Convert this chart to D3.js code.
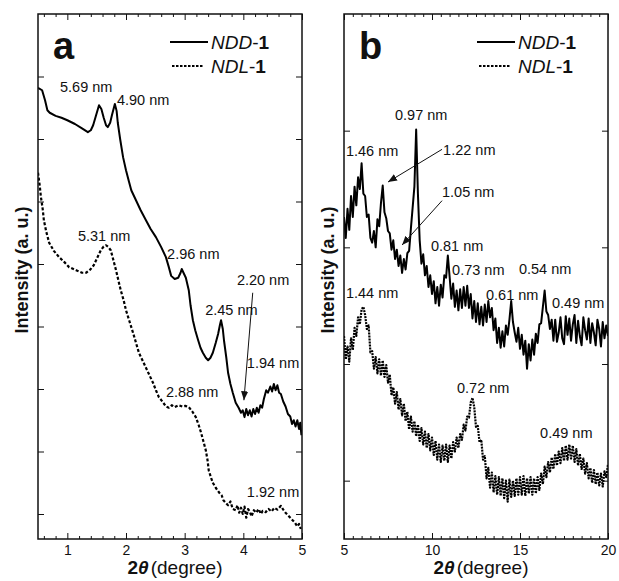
<!DOCTYPE html>
<html>
<head>
<meta charset="utf-8">
<script src="https://cdn.jsdelivr.net/npm/d3@7/dist/d3.min.js"></script>
<style>
  body { margin: 0; background: #fff; }
  svg text { font-family: "Liberation Sans", Arial, sans-serif; fill: #111; }
</style>
</head>
<body>
<svg id="chart" width="619" height="581"></svg>
<script>
// ---------- data ----------
// Panel a: low-angle scans, [2θ, intensity (offset, a.u.)]
const nddLow = [
  [0.50,6.82],[0.57,6.78],[0.62,6.62],[0.66,6.46],[0.70,6.42],[0.80,6.37],[0.90,6.34],[1.00,6.30],
  [1.13,6.24],[1.25,6.17],[1.35,6.11],[1.40,6.14],[1.44,6.22],[1.49,6.38],[1.54,6.54],[1.58,6.48],
  [1.62,6.34],[1.66,6.22],[1.69,6.19],[1.73,6.26],[1.76,6.38],[1.81,6.56],[1.84,6.45],[1.86,6.26],
  [1.90,6.00],[1.95,5.71],[2.00,5.50],[2.05,5.32],[2.09,5.18],[2.17,5.02],[2.25,4.86],[2.34,4.70],
  [2.42,4.56],[2.51,4.43],[2.60,4.27],[2.68,4.11],[2.73,3.95],[2.77,3.81],[2.83,3.76],[2.89,3.78],
  [2.93,3.86],[2.95,3.92],[2.98,3.86],[3.02,3.78],[3.07,3.58],[3.10,3.34],[3.14,3.10],[3.18,2.94],
  [3.23,2.78],[3.27,2.66],[3.31,2.58],[3.36,2.50],[3.40,2.46],[3.44,2.50],[3.48,2.58],[3.53,2.74],
  [3.57,2.88],[3.60,3.02],[3.62,3.10],[3.65,2.96],[3.67,2.78],[3.71,2.50],[3.74,2.26],[3.78,2.08],
  [3.82,1.94],[3.87,1.78],[3.92,1.70],[3.96,1.62],[3.99,1.66],[4.02,1.55],[4.05,1.68],[4.08,1.58],
  [4.11,1.66],[4.14,1.56],[4.17,1.68],[4.20,1.60],[4.23,1.70],[4.26,1.62],[4.29,1.74],[4.32,1.70],
  [4.35,1.84],[4.39,1.98],[4.42,1.94],[4.46,2.04],[4.49,1.96],[4.52,2.08],[4.55,1.98],[4.58,2.06],
  [4.61,1.94],[4.64,1.92],[4.68,1.80],[4.72,1.72],[4.76,1.60],[4.80,1.56],[4.83,1.44],[4.86,1.50],
  [4.89,1.40],[4.92,1.50],[4.95,1.36],[4.97,1.46],[4.99,1.26]
];
const ndlLow = [
  [0.50,5.46],[0.53,5.25],[0.55,5.07],[0.58,4.88],[0.60,4.70],[0.64,4.52],[0.69,4.34],[0.77,4.21],
  [0.86,4.11],[0.95,4.03],[1.03,3.95],[1.15,3.90],[1.25,3.86],[1.32,3.86],[1.39,3.91],[1.45,3.98],
  [1.52,4.12],[1.57,4.22],[1.62,4.28],[1.66,4.30],[1.70,4.27],[1.74,4.22],[1.78,4.08],[1.83,3.90],
  [1.87,3.74],[1.91,3.58],[1.96,3.42],[2.00,3.26],[2.06,3.08],[2.12,2.90],[2.17,2.74],[2.22,2.58],
  [2.28,2.46],[2.34,2.34],[2.40,2.22],[2.46,2.10],[2.51,1.98],[2.56,1.87],[2.62,1.80],[2.68,1.72],
  [2.73,1.70],[2.78,1.74],[2.83,1.71],[2.90,1.74],[2.96,1.72],[3.01,1.73],[3.07,1.71],[3.13,1.64],
  [3.19,1.55],[3.24,1.42],[3.28,1.30],[3.32,1.16],[3.36,1.02],[3.39,0.86],[3.41,0.70],[3.45,0.58],
  [3.48,0.50],[3.53,0.42],[3.59,0.34],[3.63,0.30],[3.66,0.22],[3.70,0.18],[3.74,0.14],[3.78,0.20],
  [3.82,0.08],[3.87,0.06],[3.90,0.14],[3.93,0.02],[3.96,0.10],[3.99,0.00],[4.02,0.12],[4.05,-0.06],
  [4.08,0.08],[4.11,0.04],[4.14,-0.04],[4.18,0.06],[4.22,0.02],[4.26,0.08],[4.30,0.00],[4.33,0.05],
  [4.38,0.03],[4.43,0.08],[4.48,0.04],[4.53,0.10],[4.58,0.07],[4.64,0.13],[4.68,0.07],[4.72,0.02],
  [4.76,-0.02],[4.80,-0.06],[4.84,-0.10],[4.88,-0.14],[4.92,-0.20],[4.95,-0.16],[4.98,-0.24]
];

// Panel b: wide-angle scans on a 0.1° grid starting at 5°
const scanStartB = 5.0, scanStepB = 0.1;
const nddWide = [
  2.26,2.08,2.33,2.15,2.44,2.26,2.52,2.36,2.60,2.50,
  2.72,2.46,2.44,2.26,2.28,2.08,2.04,2.14,2.00,2.24,
  2.18,2.38,2.53,2.30,2.25,2.14,2.12,1.98,2.06,1.90,
  1.98,1.84,1.93,1.78,1.90,1.81,1.95,1.97,2.16,2.34,
  2.52,3.01,2.46,2.06,1.86,1.94,1.76,1.84,1.66,1.76,
  1.60,1.71,1.52,1.66,1.50,1.68,1.57,1.76,1.74,1.93,
  1.75,1.56,1.69,1.49,1.63,1.46,1.64,1.48,1.66,1.50,
  1.67,1.48,1.60,1.39,1.54,1.36,1.52,1.34,1.49,1.33,
  1.51,1.36,1.54,1.40,1.48,1.29,1.39,1.18,1.31,1.14,
  1.28,1.15,1.33,1.25,1.38,1.54,1.36,1.27,1.19,1.31,
  1.13,1.25,1.08,1.20,0.96,1.17,1.03,1.21,1.08,1.26,
  1.18,1.34,1.35,1.49,1.63,1.45,1.42,1.30,1.38,1.20,
  1.38,1.19,1.27,1.40,1.22,1.17,1.41,1.25,1.39,1.20,
  1.34,1.42,1.18,1.37,1.24,1.16,1.40,1.29,1.21,1.39,
  1.18,1.35,1.27,1.16,1.38,1.30,1.15,1.36,1.22,1.33,
  1.24
];
const ndlWide = [
  1.24,1.04,1.15,1.02,1.22,1.12,1.31,1.24,1.40,1.34,
  1.47,1.49,1.42,1.30,1.33,1.10,1.11,0.96,1.06,0.92,
  1.04,0.90,1.03,0.89,0.99,0.84,0.91,0.73,0.80,0.66,
  0.76,0.61,0.70,0.56,0.66,0.51,0.59,0.44,0.55,0.42,
  0.51,0.38,0.48,0.34,0.45,0.31,0.42,0.28,0.40,0.26,
  0.37,0.22,0.34,0.18,0.31,0.16,0.30,0.17,0.31,0.16,
  0.30,0.19,0.33,0.25,0.37,0.28,0.40,0.35,0.48,0.43,
  0.55,0.54,0.67,0.71,0.63,0.46,0.47,0.33,0.35,0.18,
  0.21,0.02,0.11,-0.06,0.07,-0.10,0.04,-0.12,0.03,-0.13,
  0.02,-0.15,0.00,-0.18,0.01,-0.14,0.00,-0.13,0.02,-0.12,
  0.03,-0.12,0.04,-0.13,0.02,-0.11,0.03,-0.12,0.02,-0.11,
  0.03,-0.08,0.06,-0.03,0.12,0.03,0.16,0.07,0.20,0.10,
  0.23,0.13,0.25,0.15,0.28,0.17,0.30,0.18,0.31,0.19,
  0.30,0.16,0.27,0.13,0.23,0.10,0.19,0.06,0.15,0.02,
  0.11,-0.02,0.09,-0.03,0.07,-0.04,0.06,-0.05,0.08,0.03,
  0.14
];

// Axis ticks
const xTicksA = [1, 2, 3, 4, 5];
const xMinorA = [0.6,0.8,1.2,1.4,1.6,1.8,2.2,2.4,2.6,2.8,3.2,3.4,3.6,3.8,4.2,4.4,4.6,4.8];
const yTicksA = [0, 1, 2, 3, 4, 5, 6, 7];
const xTicksB = [5, 10, 15, 20];
const xMinorB = [5.5,6,6.5,7,7.5,8,8.5,9,9.5,10.5,11,11.5,12,12.5,13,13.5,14,14.5,
                 15.5,16,16.5,17,17.5,18,18.5,19,19.5];
const yTicksB = [0, 1, 2, 3];

// d-spacing annotations: [text, 2θ, intensity] of the label's left baseline
const peaksA = [
  ["5.69 nm", 0.875, 6.75], ["4.90 nm", 1.846, 6.54], ["5.31 nm", 1.18, 4.37],
  ["2.96 nm", 2.70, 4.08], ["2.20 nm", 3.89, 3.66], ["2.45 nm", 3.35, 3.18],
  ["1.94 nm", 4.06, 2.34], ["2.88 nm", 2.68, 1.87], ["1.92 nm", 4.06, 0.27]
];
const peaksB = [
  ["0.97 nm", 7.90, 3.09], ["1.46 nm", 5.11, 2.78], ["1.22 nm", 10.63, 2.79],
  ["1.05 nm", 10.57, 2.43], ["0.81 nm", 9.94, 1.97], ["0.73 nm", 11.14, 1.76],
  ["0.54 nm", 14.94, 1.77], ["0.61 nm", 13.07, 1.55], ["0.49 nm", 16.82, 1.48],
  ["1.44 nm", 5.11, 1.57], ["0.72 nm", 11.42, 0.75], ["0.49 nm", 16.14, 0.37]
];
// pointer arrows: [from 2θ, from I, to 2θ, to I]
const arrowsA = [[4.16, 3.54, 4.01, 1.82]];
const arrowsB = [[10.57, 2.84, 7.50, 2.56], [10.57, 2.40, 8.30, 2.02]];

const seriesNames = ["NDD", "NDL"];

// ---------- drawing ----------
const svg = d3.select("#chart");

const defs = svg.append("defs");
defs.append("marker")
  .attr("id", "head").attr("viewBox", "0 0 10 10")
  .attr("refX", 10).attr("refY", 5)
  .attr("markerWidth", 9).attr("markerHeight", 9)
  .attr("markerUnits", "userSpaceOnUse")
  .attr("orient", "auto")
  .append("path").attr("d", "M0,1 L10,5 L0,9 Z").attr("fill", "#111");

function drawPanel(cfg) {
  const g = svg.append("g");
  const x = d3.scaleLinear().domain(cfg.xDomain).range([cfg.left, cfg.right]);
  const y = d3.scaleLinear().domain(cfg.yDomain).range([cfg.bottom, cfg.top]);

  const clipId = "clip-" + cfg.letter;
  defs.append("clipPath").attr("id", clipId)
    .append("rect").attr("x", cfg.left).attr("y", cfg.top)
    .attr("width", cfg.right - cfg.left).attr("height", cfg.bottom - cfg.top);

  const strip = sel => sel.select(".domain").remove();
  const tickStyle = sel => sel.selectAll(".tick line").attr("stroke", "#111").attr("stroke-width", 1);

  // bottom axis: majors with labels, minors without
  g.append("g").attr("transform", `translate(0,${cfg.bottom})`)
    .call(d3.axisBottom(x).tickValues(cfg.xTicks).tickSize(-6).tickPadding(6).tickFormat(d3.format("d")))
    .call(strip).call(tickStyle)
    .selectAll("text").attr("font-size", 14).attr("fill", "#111")
    .attr("font-family", "Liberation Sans, Arial, sans-serif");
  g.append("g").attr("transform", `translate(0,${cfg.bottom})`)
    .call(d3.axisBottom(x).tickValues(cfg.xMinor).tickSize(-3).tickFormat(""))
    .call(strip).call(tickStyle);
  // top axis mirrors
  g.append("g").attr("transform", `translate(0,${cfg.top})`)
    .call(d3.axisTop(x).tickValues(cfg.xTicks).tickSize(-6).tickFormat(""))
    .call(strip).call(tickStyle);
  g.append("g").attr("transform", `translate(0,${cfg.top})`)
    .call(d3.axisTop(x).tickValues(cfg.xMinor).tickSize(-3).tickFormat(""))
    .call(strip).call(tickStyle);
  // left / right unlabeled ticks
  g.append("g").attr("transform", `translate(${cfg.left},0)`)
    .call(d3.axisLeft(y).tickValues(cfg.yTicks).tickSize(-6).tickFormat(""))
    .call(strip).call(tickStyle);
  g.append("g").attr("transform", `translate(${cfg.right},0)`)
    .call(d3.axisRight(y).tickValues(cfg.yTicks).tickSize(-6).tickFormat(""))
    .call(strip).call(tickStyle);

  // curves
  const line = d3.line().x(d => x(d[0])).y(d => y(d[1]));
  const plot = g.append("g").attr("clip-path", `url(#${clipId})`);
  plot.append("path").datum(cfg.ndl).attr("d", line)
    .attr("fill", "none").attr("stroke", "#000")
    .attr("stroke-width", cfg.ndlWidth).attr("stroke-dasharray", cfg.ndlDash)
    .attr("stroke-linejoin", "round");
  plot.append("path").datum(cfg.ndd).attr("d", line)
    .attr("fill", "none").attr("stroke", "#000")
    .attr("stroke-width", cfg.nddWidth).attr("stroke-linejoin", "round");

  // frame
  g.append("rect").attr("x", cfg.left).attr("y", cfg.top)
    .attr("width", cfg.right - cfg.left).attr("height", cfg.bottom - cfg.top)
    .attr("fill", "none").attr("stroke", "#111").attr("stroke-width", 1.5);

  // annotations
  g.selectAll("text.peak").data(cfg.peaks).join("text")
    .attr("class", "peak")
    .attr("x", d => x(d[1])).attr("y", d => y(d[2]))
    .attr("font-size", 14.5).text(d => d[0]);
  g.selectAll("line.arrow").data(cfg.arrows).join("line")
    .attr("class", "arrow")
    .attr("x1", d => x(d[0])).attr("y1", d => y(d[1]))
    .attr("x2", d => x(d[2])).attr("y2", d => y(d[3]))
    .attr("stroke", "#111").attr("stroke-width", 1)
    .attr("marker-end", "url(#head)");

  // panel letter
  g.append("text").attr("x", cfg.left + 15).attr("y", cfg.top + 45)
    .attr("font-size", 38).attr("font-weight", "bold").text(cfg.letter);

  // legend
  const lg = g.append("g").attr("transform", `translate(${cfg.legendX},0)`);
  seriesNames.forEach((name, i) => {
    const ly = 42 + i * 24;
    lg.append("line").attr("x1", i ? 2 : 0).attr("x2", i ? 33 : 38)
      .attr("y1", ly).attr("y2", ly)
      .attr("stroke", "#000").attr("stroke-width", i ? 2 : 1.8)
      .attr("stroke-dasharray", i ? "2.5,1.5" : null);
    const t = lg.append("text").attr("x", 41).attr("y", ly + 7).attr("font-size", 19);
    t.append("tspan").attr("font-style", "italic").text(name);
    t.append("tspan").text("-");
    t.append("tspan").attr("font-weight", "bold").text("1");
  });

  // axis titles
  svg.append("text")
    .attr("transform", `translate(${cfg.left - 10},270) rotate(-90)`)
    .attr("text-anchor", "middle").attr("font-size", 18).attr("font-weight", "bold")
    .text("Intensity (a. u.)");
  const xt = svg.append("text")
    .attr("x", (cfg.left + cfg.right) / 2 + 5).attr("y", 574)
    .attr("text-anchor", "middle").attr("font-size", 19);
  xt.append("tspan").attr("font-weight", "bold").text("2");
  xt.append("tspan").attr("font-weight", "bold").attr("font-style", "italic").text("θ");
  xt.append("tspan").attr("dx", 2).text("(degree)");
}

drawPanel({
  letter: "a", left: 38, right: 302, top: 14, bottom: 539,
  xDomain: [0.5, 5], yDomain: [-0.4, 8],
  xTicks: xTicksA, xMinor: xMinorA, yTicks: yTicksA,
  ndd: nddLow, ndl: ndlLow, nddWidth: 2, ndlWidth: 2.2, ndlDash: "3,2",
  peaks: peaksA, arrows: arrowsA, legendX: 170
});

drawPanel({
  letter: "b", left: 344, right: 608, top: 14, bottom: 539,
  xDomain: [5, 20], yDomain: [-0.5, 4],
  xTicks: xTicksB, xMinor: xMinorB, yTicks: yTicksB,
  ndd: nddWide.map((v, i) => [scanStartB + i * scanStepB, v]),
  ndl: ndlWide.map((v, i) => [scanStartB + i * scanStepB, v]),
  nddWidth: 2, ndlWidth: 2.2, ndlDash: "2,1",
  peaks: peaksB, arrows: arrowsB, legendX: 477
});
</script>
</body>
</html>
